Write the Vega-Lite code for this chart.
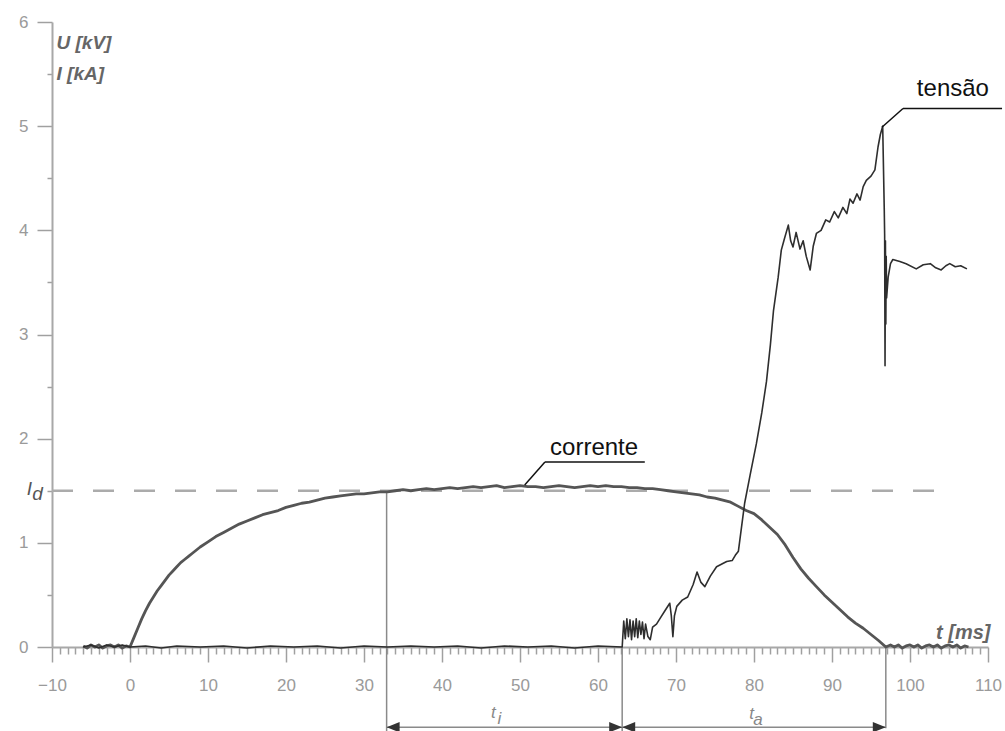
{
  "$schema": "https://vega.github.io/schema/vega-lite/v6.json",
  "width": 936,
  "height": 625,
  "autosize": {"type": "none"},
  "padding": {"left": 52, "top": 22, "right": 17, "bottom": 84},
  "background": "white",
  "config": {"view": {"stroke": null}, "font": "Liberation Sans"},
  "datasets": {
    "corrente": [
      {"t": -6, "v": 0.01}, {"t": -5.5, "v": -0.01}, {"t": -5, "v": 0.02}, {"t": -4.5, "v": 0}, {"t": -4, "v": 0.02},
      {"t": -3.5, "v": -0.01}, {"t": -3, "v": 0.01}, {"t": -2.5, "v": 0.02}, {"t": -2, "v": 0}, {"t": -1.5, "v": 0.02},
      {"t": -1, "v": -0.01}, {"t": -0.5, "v": 0.01}, {"t": 0, "v": 0},
      {"t": 0.5, "v": 0.09}, {"t": 1, "v": 0.18}, {"t": 1.5, "v": 0.27}, {"t": 2, "v": 0.35}, {"t": 2.5, "v": 0.42},
      {"t": 3, "v": 0.48}, {"t": 3.5, "v": 0.54}, {"t": 4, "v": 0.59}, {"t": 4.5, "v": 0.64}, {"t": 5, "v": 0.69},
      {"t": 5.5, "v": 0.73}, {"t": 6, "v": 0.77}, {"t": 6.5, "v": 0.81}, {"t": 7, "v": 0.84}, {"t": 7.5, "v": 0.87},
      {"t": 8, "v": 0.9}, {"t": 9, "v": 0.96},
      {"t": 10, "v": 1.01}, {"t": 11, "v": 1.06}, {"t": 12, "v": 1.1}, {"t": 13, "v": 1.14}, {"t": 14, "v": 1.18},
      {"t": 15, "v": 1.21}, {"t": 16, "v": 1.24}, {"t": 17, "v": 1.27}, {"t": 18, "v": 1.29}, {"t": 19, "v": 1.31},
      {"t": 20, "v": 1.34}, {"t": 21, "v": 1.36}, {"t": 22, "v": 1.38}, {"t": 23, "v": 1.39}, {"t": 24, "v": 1.41},
      {"t": 25, "v": 1.43}, {"t": 26, "v": 1.44}, {"t": 27, "v": 1.45}, {"t": 28, "v": 1.46}, {"t": 29, "v": 1.47},
      {"t": 30, "v": 1.47}, {"t": 31, "v": 1.48}, {"t": 32, "v": 1.49}, {"t": 33, "v": 1.49}, {"t": 34, "v": 1.5},
      {"t": 35, "v": 1.51}, {"t": 36, "v": 1.5}, {"t": 37, "v": 1.51}, {"t": 38, "v": 1.52}, {"t": 39, "v": 1.51},
      {"t": 40, "v": 1.52}, {"t": 41, "v": 1.53}, {"t": 42, "v": 1.52}, {"t": 43, "v": 1.53}, {"t": 44, "v": 1.54},
      {"t": 45, "v": 1.53}, {"t": 46, "v": 1.54}, {"t": 47, "v": 1.55}, {"t": 48, "v": 1.53}, {"t": 49, "v": 1.54},
      {"t": 50, "v": 1.55}, {"t": 51, "v": 1.54}, {"t": 52, "v": 1.54}, {"t": 53, "v": 1.53}, {"t": 54, "v": 1.54},
      {"t": 55, "v": 1.55}, {"t": 56, "v": 1.54}, {"t": 57, "v": 1.53}, {"t": 58, "v": 1.54}, {"t": 59, "v": 1.55},
      {"t": 60, "v": 1.54}, {"t": 61, "v": 1.55}, {"t": 62, "v": 1.54}, {"t": 63, "v": 1.54}, {"t": 64, "v": 1.53},
      {"t": 65, "v": 1.53}, {"t": 66, "v": 1.52}, {"t": 67, "v": 1.52}, {"t": 68, "v": 1.51}, {"t": 69, "v": 1.5},
      {"t": 70, "v": 1.49}, {"t": 71, "v": 1.48}, {"t": 72, "v": 1.47}, {"t": 73, "v": 1.46}, {"t": 74, "v": 1.44},
      {"t": 75, "v": 1.43}, {"t": 76, "v": 1.41}, {"t": 77, "v": 1.39}, {"t": 78, "v": 1.35}, {"t": 79, "v": 1.31},
      {"t": 80, "v": 1.28}, {"t": 81, "v": 1.22}, {"t": 82, "v": 1.15}, {"t": 83, "v": 1.08}, {"t": 84, "v": 0.98},
      {"t": 85, "v": 0.86}, {"t": 86, "v": 0.75}, {"t": 87, "v": 0.66}, {"t": 88, "v": 0.58}, {"t": 89, "v": 0.5},
      {"t": 90, "v": 0.43}, {"t": 91, "v": 0.36}, {"t": 92, "v": 0.29}, {"t": 93, "v": 0.23}, {"t": 94, "v": 0.18},
      {"t": 95, "v": 0.12}, {"t": 96, "v": 0.06}, {"t": 96.9, "v": 0},
      {"t": 97.5, "v": 0.02}, {"t": 98, "v": 0}, {"t": 98.5, "v": 0.02}, {"t": 99, "v": -0.01}, {"t": 99.5, "v": 0.01},
      {"t": 100, "v": 0.02}, {"t": 100.5, "v": 0}, {"t": 101, "v": 0.02}, {"t": 101.5, "v": -0.01}, {"t": 102, "v": 0.01},
      {"t": 102.5, "v": 0.02}, {"t": 103, "v": 0}, {"t": 103.5, "v": 0.02}, {"t": 104, "v": -0.01}, {"t": 104.5, "v": 0.01},
      {"t": 105, "v": 0.02}, {"t": 105.5, "v": 0}, {"t": 106, "v": 0.02}, {"t": 106.5, "v": -0.01}, {"t": 107, "v": 0.01},
      {"t": 107.5, "v": 0}
    ],
    "tensao": [
      {"t": -6, "v": 0}, {"t": -5, "v": 0.02}, {"t": -4, "v": -0.01}, {"t": -3, "v": 0.02}, {"t": -2, "v": 0},
      {"t": -1, "v": 0.02}, {"t": 0, "v": 0}, {"t": 2, "v": 0.01}, {"t": 4, "v": -0.01}, {"t": 6, "v": 0.01},
      {"t": 9, "v": 0}, {"t": 12, "v": 0.01}, {"t": 15, "v": -0.01}, {"t": 18, "v": 0.01}, {"t": 21, "v": 0},
      {"t": 24, "v": 0.01}, {"t": 27, "v": -0.01}, {"t": 30, "v": 0.01}, {"t": 33, "v": 0}, {"t": 36, "v": 0.01},
      {"t": 39, "v": 0}, {"t": 42, "v": 0.01}, {"t": 45, "v": -0.01}, {"t": 48, "v": 0.01}, {"t": 51, "v": 0},
      {"t": 54, "v": 0.01}, {"t": 57, "v": -0.01}, {"t": 60, "v": 0.01}, {"t": 63.1, "v": 0},
      {"t": 63.3, "v": 0.25}, {"t": 63.5, "v": 0.08}, {"t": 63.7, "v": 0.27}, {"t": 63.9, "v": 0.1}, {"t": 64.1, "v": 0.26},
      {"t": 64.3, "v": 0.07}, {"t": 64.5, "v": 0.25}, {"t": 64.7, "v": 0.1}, {"t": 64.9, "v": 0.27}, {"t": 65.1, "v": 0.09},
      {"t": 65.3, "v": 0.25}, {"t": 65.5, "v": 0.12}, {"t": 65.7, "v": 0.24}, {"t": 65.9, "v": 0.08}, {"t": 66.1, "v": 0.22},
      {"t": 66.4, "v": 0.1}, {"t": 66.7, "v": 0.07}, {"t": 67, "v": 0.19}, {"t": 67.5, "v": 0.22}, {"t": 68, "v": 0.28},
      {"t": 68.6, "v": 0.35}, {"t": 69.2, "v": 0.42}, {"t": 69.4, "v": 0.3}, {"t": 69.6, "v": 0.1}, {"t": 69.8, "v": 0.3},
      {"t": 70.1, "v": 0.39}, {"t": 70.8, "v": 0.45}, {"t": 71.5, "v": 0.48}, {"t": 72.2, "v": 0.6}, {"t": 72.7, "v": 0.72},
      {"t": 73.2, "v": 0.62}, {"t": 73.7, "v": 0.58}, {"t": 74.4, "v": 0.68}, {"t": 75.2, "v": 0.77}, {"t": 76.5, "v": 0.82},
      {"t": 77.2, "v": 0.83}, {"t": 77.6, "v": 0.88}, {"t": 78, "v": 0.92}, {"t": 78.4, "v": 1.15}, {"t": 78.8, "v": 1.38},
      {"t": 79.5, "v": 1.65}, {"t": 80.3, "v": 1.95}, {"t": 81, "v": 2.25}, {"t": 81.6, "v": 2.55}, {"t": 82.1, "v": 2.9},
      {"t": 82.5, "v": 3.23}, {"t": 83.1, "v": 3.55}, {"t": 83.5, "v": 3.81}, {"t": 83.9, "v": 3.92}, {"t": 84.4, "v": 4.05},
      {"t": 84.7, "v": 3.9}, {"t": 85, "v": 3.84}, {"t": 85.4, "v": 3.98}, {"t": 85.9, "v": 3.82}, {"t": 86.3, "v": 3.9},
      {"t": 86.7, "v": 3.75}, {"t": 87.2, "v": 3.62}, {"t": 87.6, "v": 3.85}, {"t": 88, "v": 3.97}, {"t": 88.6, "v": 4.0},
      {"t": 89.2, "v": 4.1}, {"t": 89.7, "v": 4.08}, {"t": 90.3, "v": 4.18}, {"t": 90.8, "v": 4.12}, {"t": 91.4, "v": 4.22},
      {"t": 91.9, "v": 4.16}, {"t": 92.3, "v": 4.3}, {"t": 92.7, "v": 4.26}, {"t": 93.2, "v": 4.35}, {"t": 93.6, "v": 4.29},
      {"t": 94, "v": 4.42}, {"t": 94.4, "v": 4.48}, {"t": 95, "v": 4.52}, {"t": 95.5, "v": 4.58}, {"t": 95.9, "v": 4.8},
      {"t": 96.2, "v": 4.92}, {"t": 96.5, "v": 5.0}, {"t": 96.7, "v": 4.2}, {"t": 96.75, "v": 3.95}, {"t": 96.8, "v": 2.7},
      {"t": 96.85, "v": 3.9}, {"t": 96.9, "v": 3.1}, {"t": 96.95, "v": 3.75}, {"t": 97, "v": 3.35}, {"t": 97.2, "v": 3.55},
      {"t": 97.5, "v": 3.68}, {"t": 97.8, "v": 3.72}, {"t": 98.7, "v": 3.7}, {"t": 99.5, "v": 3.68}, {"t": 100.8, "v": 3.63},
      {"t": 101.7, "v": 3.67}, {"t": 102.6, "v": 3.68}, {"t": 103.3, "v": 3.64}, {"t": 104, "v": 3.62}, {"t": 104.6, "v": 3.66},
      {"t": 105.1, "v": 3.68}, {"t": 105.8, "v": 3.65}, {"t": 106.5, "v": 3.66}, {"t": 107.3, "v": 3.63}
    ],
    "limiar": [{"t": -10, "t2": 103.2, "v": 1.5}],
    "guias": [
      {"t": 32.9, "v": 1.49, "v2": -0.81},
      {"t": 63.1, "v": 0, "v2": -0.81},
      {"t": 96.9, "v": 0, "v2": -0.78}
    ],
    "intervalos": [
      {"t": 32.9, "t2": 63.1, "v": -0.77},
      {"t": 63.1, "t2": 96.9, "v": -0.77}
    ],
    "setas": [
      {"t": 32.9, "v": -0.77, "sentido": "esquerda"},
      {"t": 63.1, "v": -0.77, "sentido": "direita"},
      {"t": 63.1, "v": -0.77, "sentido": "esquerda"},
      {"t": 96.9, "v": -0.77, "sentido": "direita"}
    ],
    "chamadas": [
      {"t": 50.6, "v": 1.555, "t2": 53.2, "v2": 1.775},
      {"t": 53.2, "v": 1.775, "t2": 66.0, "v2": 1.775},
      {"t": 96.4, "v": 4.99, "t2": 99.1, "v2": 5.17},
      {"t": 99.1, "v": 5.17, "t2": 111.8, "v2": 5.17}
    ],
    "rotulos": [
      {"t": 59.5, "v": 1.91, "texto": "corrente"},
      {"t": 105.5, "v": 5.355, "texto": "tensão"}
    ],
    "simbolos": [
      {"t": -12.9, "v": 1.515, "texto": "I", "tipo": "eixo"},
      {"t": 46.6, "v": -0.63, "texto": "t", "tipo": "tempo"},
      {"t": 79.7, "v": -0.64, "texto": "t", "tipo": "tempo"}
    ],
    "indices": [
      {"t": -11.85, "v": 1.47, "texto": "d", "tipo": "eixo"},
      {"t": 47.35, "v": -0.69, "texto": "i", "tipo": "tempo"},
      {"t": 80.5, "v": -0.7, "texto": "a", "tipo": "tempo"}
    ]
  },
  "encoding": {
    "x": {
      "field": "t",
      "type": "quantitative",
      "scale": {"domain": [-10, 110], "nice": false, "zero": false},
      "axis": {
        "title": "t [ms]",
        "titleX": 938,
        "titleY": -15,
        "titleAlign": "right",
        "titleBaseline": "middle",
        "titleFontSize": 20,
        "titleFontStyle": "italic",
        "titleFontWeight": "bold",
        "titleColor": "#666",
        "values": [-10,-9,-8,-7,-6,-5,-4,-3,-2,-1,0,1,2,3,4,5,6,7,8,9,10,11,12,13,14,15,16,17,18,19,20,21,22,23,24,25,26,27,28,29,30,31,32,33,34,35,36,37,38,39,40,41,42,43,44,45,46,47,48,49,50,51,52,53,54,55,56,57,58,59,60,61,62,63,64,65,66,67,68,69,70,71,72,73,74,75,76,77,78,79,80,81,82,83,84,85,86,87,88,89,90,91,92,93,94,95,96,97,98,99,100,101,102,103,104,105,106,107,108,109,110],
        "labelExpr": "datum.value % 10 === 0 ? format(datum.value, 'd') : ''",
        "labelOverlap": false,
        "labelFlush": false,
        "labelFontSize": 17,
        "labelColor": "#9a9a9a",
        "labelPadding": 15,
        "tickSize": {"condition": {"test": "datum.value % 10 === 0", "value": 15}, "value": 7},
        "tickColor": "#a0a0a0",
        "tickWidth": 1.5,
        "domainColor": "#a8a8a8",
        "domainWidth": 2,
        "grid": false
      }
    },
    "y": {
      "field": "v",
      "type": "quantitative",
      "scale": {"domain": [0, 6], "nice": false, "zero": false},
      "axis": {
        "title": ["U [kV]", "I [kA]"],
        "titleAngle": 0,
        "titleAlign": "left",
        "titleBaseline": "alphabetic",
        "titleX": 4,
        "titleY": 26,
        "titleLineHeight": 31,
        "titleFontSize": 19,
        "titleFontStyle": "italic",
        "titleFontWeight": "bold",
        "titleColor": "#666",
        "values": [0, 0.5, 1, 1.5, 2, 2.5, 3, 3.5, 4, 4.5, 5, 5.5, 6],
        "labelExpr": "datum.value % 1 === 0 ? format(datum.value, 'd') : ''",
        "labelOverlap": false,
        "labelFlush": false,
        "labelFontSize": 17,
        "labelColor": "#9a9a9a",
        "labelPadding": 9,
        "tickSize": {"condition": {"test": "datum.value % 1 === 0", "value": 15}, "value": 5},
        "tickColor": "#a0a0a0",
        "tickWidth": 1.5,
        "domainColor": "#a8a8a8",
        "domainWidth": 2,
        "grid": false
      }
    }
  },
  "layer": [
    {
      "data": {"name": "limiar"},
      "mark": {"type": "rule", "color": "#ababab", "strokeWidth": 2.5, "strokeDash": [21, 20]},
      "encoding": {"x2": {"field": "t2"}}
    },
    {
      "data": {"name": "guias"},
      "mark": {"type": "rule", "color": "#8a8a8a", "strokeWidth": 1.5},
      "encoding": {"y2": {"field": "v2"}}
    },
    {
      "data": {"name": "intervalos"},
      "mark": {"type": "rule", "color": "#8a8a8a", "strokeWidth": 1.5},
      "encoding": {"x2": {"field": "t2"}}
    },
    {
      "data": {"name": "setas"},
      "mark": {"type": "point", "filled": true, "size": 676, "opacity": 1, "color": "#333"},
      "encoding": {
        "shape": {
          "field": "sentido",
          "type": "nominal",
          "scale": {"domain": ["esquerda", "direita"], "range": ["M0,0L1,-0.4L1,0.4Z", "M0,0L-1,-0.4L-1,0.4Z"]},
          "legend": null
        }
      }
    },
    {
      "data": {"name": "corrente"},
      "mark": {"type": "line", "color": "#555", "strokeWidth": 2.8, "strokeJoin": "round"}
    },
    {
      "data": {"name": "tensao"},
      "mark": {"type": "line", "color": "#2e2e2e", "strokeWidth": 1.6, "strokeJoin": "round"}
    },
    {
      "data": {"name": "chamadas"},
      "mark": {"type": "rule", "color": "#111", "strokeWidth": 1.5},
      "encoding": {"x2": {"field": "t2"}, "y2": {"field": "v2"}}
    },
    {
      "data": {"name": "rotulos"},
      "mark": {"type": "text", "fontSize": 24, "color": "#111", "align": "center", "baseline": "middle"},
      "encoding": {"text": {"field": "texto"}}
    },
    {
      "data": {"name": "simbolos"},
      "mark": {"type": "text", "fontStyle": "italic", "align": "center", "baseline": "middle"},
      "encoding": {
        "text": {"field": "texto"},
        "size": {"field": "tipo", "type": "nominal", "scale": {"domain": ["eixo", "tempo"], "range": [19, 17]}, "legend": null},
        "color": {"field": "tipo", "type": "nominal", "scale": {"domain": ["eixo", "tempo"], "range": ["#555", "#888"]}, "legend": null}
      }
    },
    {
      "data": {"name": "indices"},
      "mark": {"type": "text", "fontStyle": "italic", "align": "center", "baseline": "middle"},
      "encoding": {
        "text": {"field": "texto"},
        "size": {"field": "tipo", "type": "nominal", "scale": {"domain": ["eixo", "tempo"], "range": [12, 11]}, "legend": null},
        "color": {"field": "tipo", "type": "nominal", "scale": {"domain": ["eixo", "tempo"], "range": ["#555", "#888"]}, "legend": null}
      }
    }
  ]
}
